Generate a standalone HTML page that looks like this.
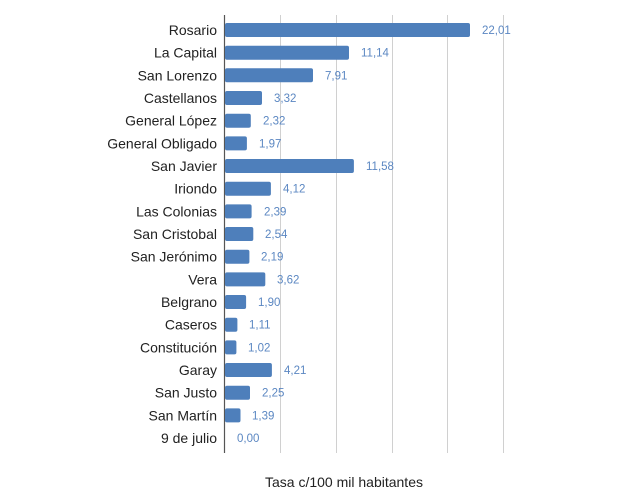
<!DOCTYPE html>
<html><head><style>
body{margin:0;background:#fff;}
svg{display:block;}
</style></head><body>
<svg width="636" height="498" xmlns="http://www.w3.org/2000/svg" font-family="Liberation Sans, sans-serif">
<g stroke="#d0d0d0" stroke-width="1">
<line x1="280.5" y1="15" x2="280.5" y2="453"/>
<line x1="336.5" y1="15" x2="336.5" y2="453"/>
<line x1="392.5" y1="15" x2="392.5" y2="453"/>
<line x1="447.5" y1="15" x2="447.5" y2="453"/>
<line x1="503.5" y1="15" x2="503.5" y2="453"/>
</g>
<line x1="224.5" y1="15" x2="224.5" y2="453" stroke="#555" stroke-width="1.2"/>
<g fill="#4e7fbb">
<rect x="225" y="23" width="245" height="14" rx="2"/>
<rect x="225" y="45.7" width="124" height="14" rx="2"/>
<rect x="225" y="68.3" width="88" height="14" rx="2"/>
<rect x="225" y="91" width="37" height="14" rx="2"/>
<rect x="225" y="113.7" width="25.8" height="14" rx="2"/>
<rect x="225" y="136.4" width="21.9" height="14" rx="2"/>
<rect x="225" y="159" width="128.9" height="14" rx="2"/>
<rect x="225" y="181.7" width="45.9" height="14" rx="2"/>
<rect x="225" y="204.4" width="26.6" height="14" rx="2"/>
<rect x="225" y="227" width="28.3" height="14" rx="2"/>
<rect x="225" y="249.7" width="24.4" height="14" rx="2"/>
<rect x="225" y="272.4" width="40.3" height="14" rx="2"/>
<rect x="225" y="295" width="21.1" height="14" rx="2"/>
<rect x="225" y="317.7" width="12.4" height="14" rx="2"/>
<rect x="225" y="340.4" width="11.4" height="14" rx="2"/>
<rect x="225" y="363" width="46.9" height="14" rx="2"/>
<rect x="225" y="385.7" width="25" height="14" rx="2"/>
<rect x="225" y="408.4" width="15.5" height="14" rx="2"/>
</g>
<g font-size="14" fill="#222" text-anchor="end">
<text x="217" y="35">Rosario</text>
<text x="217" y="57.7">La Capital</text>
<text x="217" y="80.3">San Lorenzo</text>
<text x="217" y="103">Castellanos</text>
<text x="217" y="125.7">General López</text>
<text x="217" y="148.4">General Obligado</text>
<text x="217" y="171">San Javier</text>
<text x="217" y="193.7">Iriondo</text>
<text x="217" y="216.4">Las Colonias</text>
<text x="217" y="239">San Cristobal</text>
<text x="217" y="261.7">San Jerónimo</text>
<text x="217" y="284.4">Vera</text>
<text x="217" y="307">Belgrano</text>
<text x="217" y="329.7">Caseros</text>
<text x="217" y="352.4">Constitución</text>
<text x="217" y="375">Garay</text>
<text x="217" y="397.7">San Justo</text>
<text x="217" y="420.4">San Martín</text>
<text x="217" y="443">9 de julio</text>
</g>
<g font-size="11.5" fill="#5b87c2">
<text x="482" y="34">22,01</text>
<text x="361" y="56.7">11,14</text>
<text x="325" y="79.3">7,91</text>
<text x="274" y="102">3,32</text>
<text x="263" y="124.7">2,32</text>
<text x="259" y="147.4">1,97</text>
<text x="366" y="170">11,58</text>
<text x="283" y="192.7">4,12</text>
<text x="264" y="215.4">2,39</text>
<text x="265" y="238">2,54</text>
<text x="261" y="260.7">2,19</text>
<text x="277" y="283.4">3,62</text>
<text x="258" y="306">1,90</text>
<text x="249" y="328.7">1,11</text>
<text x="248" y="351.4">1,02</text>
<text x="284" y="374">4,21</text>
<text x="262" y="396.7">2,25</text>
<text x="252" y="419.4">1,39</text>
<text x="237" y="442">0,00</text>
</g>
<text x="344" y="487" font-size="14" fill="#222" text-anchor="middle">Tasa c/100 mil habitantes</text>
</svg>
</body></html>
